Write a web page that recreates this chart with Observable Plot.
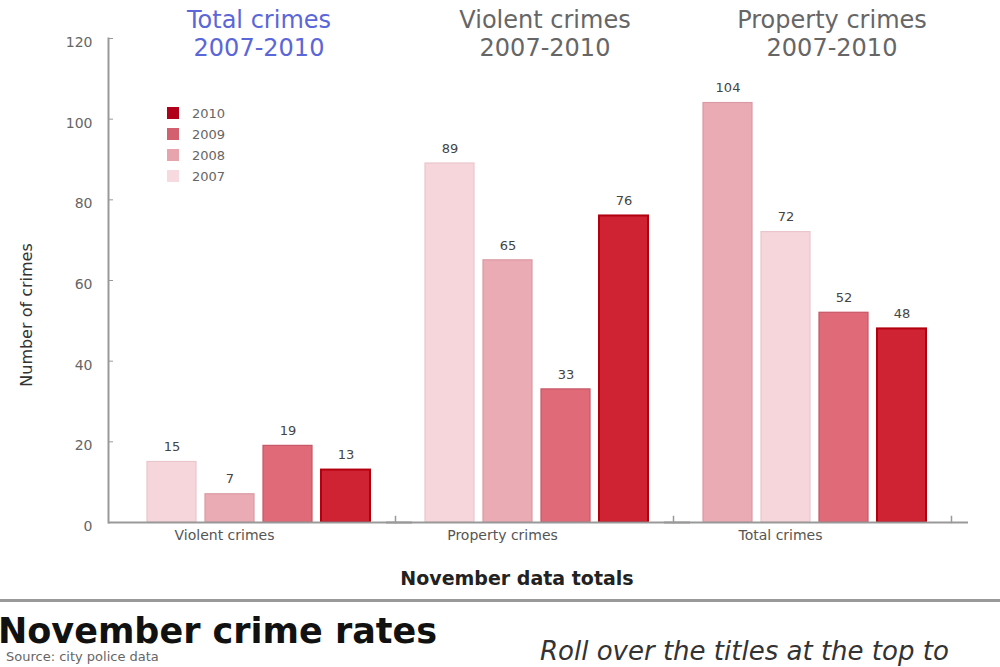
<!DOCTYPE html>
<html>
<head>
<meta charset="utf-8">
<script src="https://cdn.jsdelivr.net/npm/d3@7"></script>
<script src="https://cdn.jsdelivr.net/npm/@observablehq/plot@0.6"></script>
<style>
  html, body { margin: 0; padding: 0; overflow: hidden; background: #fff; }
  body { width: 1000px; height: 667px; position: relative; font-family: "DejaVu Sans", Verdana, sans-serif; }
  #chart { position: absolute; left: 0; top: 0; }
  .abs { position: absolute; white-space: nowrap; }
  .title { font-size: 24px; line-height: 28px; text-align: center; transform: translateX(-50%); color: #666; }
  .title.active { color: #5b66d8; }
  .legend-row { position: absolute; left: 167px; height: 14px; display: flex; align-items: center; font-size: 13px; color: #666; }
  .legend-row span.sw { width: 12px; height: 12px; margin-right: 13px; display: inline-block; }
</style>
</head>
<body>
<div id="chart"></div>
<script>
// ---- data ----
const groups = ["Violent crimes", "Property crimes", "Total crimes"];
const years = ["2007", "2008", "2009", "2010"];
const violentValues = [15, 7, 19, 13];
const propertyValues = [89, 65, 33, 76];
const totalValues = [104, 72, 52, 48];
const totalYears = ["2008", "2007", "2009", "2010"];
const yTicks = [0, 20, 40, 60, 80, 100, 120];
const titles = [["Total crimes", "2007-2010"], ["Violent crimes", "2007-2010"], ["Property crimes", "2007-2010"]];
const legendYears = ["2010", "2009", "2008", "2007"];

// ---- styles ----
const fills = ["#f6d6db", "#ebabb4", "#e06a78", "#cf2233"];
const strokes = ["#e9c6cb", "#d99aa3", "#c65666", "#b3000f"];
const legendFills = ["#f7dadf", "#e8a4ad", "#d2606e", "#b3001a"];

const rows = [
  ...violentValues.map((v, i) => ({group: groups[0], slot: i, year: years[i], value: v})),
  ...propertyValues.map((v, i) => ({group: groups[1], slot: i, year: years[i], value: v})),
  ...totalValues.map((v, i) => ({group: groups[2], slot: i, year: totalYears[i], value: v}))
];

const barMarks = years.map((yr, i) =>
  Plot.barY(rows.filter(d => d.year === yr), {
    fx: "group", x: "slot", y: "value",
    fill: fills[i], stroke: strokes[i], strokeWidth: i === 3 ? 2 : 1.2
  })
);

const chart = Plot.plot({
  width: 1000,
  height: 595,
  marginLeft: 108,
  marginRight: 32,
  marginTop: 38,
  marginBottom: 73,
  style: {fontFamily: "DejaVu Sans, Verdana, sans-serif", background: "transparent"},
  fx: {domain: groups, padding: 0, insetLeft: 9, insetRight: 17, axis: null, label: null},
  x: {domain: [0, 1, 2, 3], paddingInner: 0.155, paddingOuter: 0.474, align: 0.545, axis: null},
  y: {domain: [0, 120], axis: null},
  marks: [
    ...barMarks,
    Plot.text(rows, {fx: "group", x: "slot", y: "value", text: d => String(d.value), dy: -15, fontSize: 13, fill: "#444"}),
    Plot.ruleY([0], {insetLeft: -9, insetRight: -17, stroke: "#999", strokeWidth: 2}),
    Plot.frame({anchor: "right", insetTop: 478, stroke: "#999", strokeWidth: 1.5}),
    Plot.frame({anchor: "left", facetAnchor: "left", dx: -9, stroke: "#999", strokeWidth: 2}),
    Plot.axisY({ticks: yTicks, tickSize: -5, fill: "none", stroke: "#999", dx: -9, label: null}),
    Plot.axisY({ticks: yTicks, tickSize: 0, tickPadding: 16, dx: -9, dy: 4, fill: "#666", fontSize: 14, label: null}),
    Plot.axisFx({anchor: "bottom", tickSize: 0, tickPadding: 8, dx: -32, fill: "#555", fontSize: 14, label: null})
  ]
});
document.getElementById("chart").appendChild(chart);

// ---- overlays: titles, legend, axis titles, footer ----
const body = document.body;
const titleCenters = [259, 545, 832];
titles.forEach((t, i) => {
  const el = document.createElement("div");
  el.className = "abs title" + (i === 0 ? " active" : "");
  el.style.left = titleCenters[i] + "px";
  el.style.top = "6px";
  el.innerHTML = t[0] + "<br>" + t[1];
  body.appendChild(el);
});

legendYears.forEach((yr, i) => {
  const row = document.createElement("div");
  row.className = "legend-row";
  row.style.top = (106 + i * 21) + "px";
  const sw = document.createElement("span");
  sw.className = "sw";
  sw.style.background = legendFills[years.indexOf(yr)];
  row.appendChild(sw);
  row.appendChild(document.createTextNode(yr));
  body.appendChild(row);
});

function addText(text, css) {
  const el = document.createElement("div");
  el.className = "abs";
  el.textContent = text;
  Object.assign(el.style, css);
  body.appendChild(el);
  return el;
}
addText("Number of crimes", {left: "26px", top: "315px", fontSize: "16px", color: "#333", transform: "translate(-50%,-50%) rotate(-90deg)"});
addText("November data totals", {left: "517px", top: "578px", fontSize: "19px", fontWeight: "bold", color: "#222", transform: "translate(-50%,-50%)"});
const hr = document.createElement("div");
Object.assign(hr.style, {position: "absolute", left: "0", top: "599px", width: "1000px", height: "3px", background: "#999"});
body.appendChild(hr);
addText("November crime rates", {left: "-2px", top: "611px", fontSize: "35px", fontWeight: "bold", color: "#111", lineHeight: "40px"});
addText("Source: city police data", {left: "6px", top: "650px", fontSize: "13px", color: "#666", lineHeight: "14px"});
addText("Roll over the titles at the top to", {left: "540px", top: "636px", fontSize: "26px", fontStyle: "italic", color: "#333", lineHeight: "30px"});
</script>
</body>
</html>
